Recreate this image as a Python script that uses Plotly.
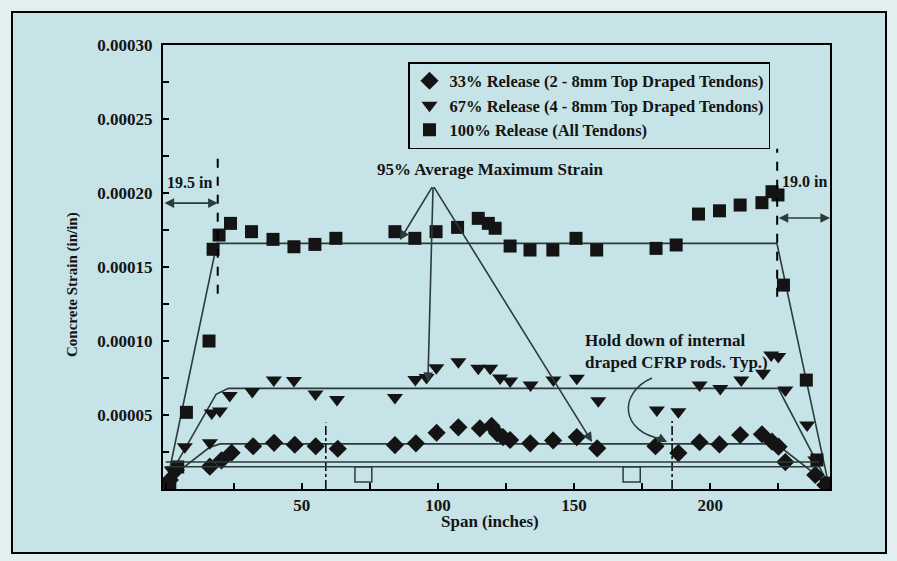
import plotly.graph_objects as go

# ---------------- data ----------------
sq_x = [1.5, 4.4, 7.6, 15.9, 17.4, 19.6, 23.8, 31.5, 39.4, 47.1, 54.8, 62.5, 84.2, 91.5, 99.3,
        107.2, 114.8, 118.5, 121.0, 126.5, 133.8, 142.2, 150.7, 158.3, 180.1, 187.5, 195.7,
        203.4, 211.0, 219.0, 222.7, 224.9, 226.9, 235.3, 239.2, 243.5]
sq_y = [0.05e-5, 1.49e-5, 5.18e-5, 10.0e-5, 16.2e-5, 17.16e-5, 17.95e-5, 17.39e-5, 16.87e-5,
        16.37e-5, 16.53e-5, 16.94e-5, 17.39e-5, 16.94e-5, 17.39e-5, 17.68e-5, 18.29e-5,
        17.95e-5, 17.62e-5, 16.42e-5, 16.15e-5, 16.15e-5, 16.94e-5, 16.15e-5, 16.26e-5,
        16.49e-5, 18.58e-5, 18.8e-5, 19.19e-5, 19.35e-5, 20.09e-5, 19.87e-5, 13.78e-5,
        7.36e-5, 1.96e-5, 0.39e-5]

tri_x = [0.7, 2.2, 7.0, 16.2, 16.9, 19.9, 23.5, 31.8, 39.7, 47.1, 55.0, 62.9, 84.2, 91.7, 95.8,
         99.4, 107.5, 114.8, 119.2, 122.8, 126.5, 134.0, 142.4, 151.0, 158.9, 180.4, 188.3,
         196.1, 203.7, 211.4, 219.4, 222.4, 225.0, 227.6, 235.6, 238.6, 242.6]
tri_y = [0.14e-5, 1.28e-5, 2.86e-5, 3.13e-5, 5.14e-5, 5.27e-5, 6.32e-5, 6.59e-5, 7.37e-5,
         7.33e-5, 6.42e-5, 6.05e-5, 6.18e-5, 7.40e-5, 7.53e-5, 8.19e-5, 8.60e-5, 8.16e-5,
         8.16e-5, 7.50e-5, 7.30e-5, 7.03e-5, 7.37e-5, 7.48e-5, 5.97e-5, 5.34e-5, 5.22e-5,
         7.03e-5, 6.80e-5, 7.37e-5, 7.82e-5, 9.05e-5, 8.95e-5, 6.69e-5, 4.32e-5, 1.96e-5,
         0.47e-5]

dia_x = [1.5, 3.7, 16.2, 20.5, 24.2, 32.1, 39.8, 47.4, 55.1, 63.2, 84.2, 91.9, 99.5, 107.5,
         115.4, 119.7, 121.7, 123.9, 126.5, 133.9, 142.3, 151.0, 158.5, 179.9, 188.3, 196.1,
         203.4, 211.0, 219.0, 222.7, 225.1, 227.6, 238.6, 242.3]
dia_y = [0.61e-5, 1.28e-5, 1.51e-5, 1.94e-5, 2.45e-5, 2.89e-5, 3.12e-5, 2.99e-5, 2.89e-5,
         2.72e-5, 2.97e-5, 3.09e-5, 3.80e-5, 4.17e-5, 4.10e-5, 4.26e-5, 3.78e-5, 3.51e-5,
         3.31e-5, 3.09e-5, 3.28e-5, 3.51e-5, 2.75e-5, 2.89e-5, 2.43e-5, 3.16e-5, 3.01e-5,
         3.65e-5, 3.70e-5, 3.20e-5, 2.86e-5, 1.82e-5, 0.95e-5, 0.27e-5]

# 95% average maximum strain envelopes
sq_fit_x = [0.0, 18.8, 224.5, 243.5]
sq_fit_y = [0.05e-5, 16.6e-5, 16.6e-5, 0.3e-5]
tri_fit_x = [0.5, 18.5, 23.0, 225.0, 243.5]
tri_fit_y = [0.6e-5, 6.4e-5, 6.8e-5, 6.8e-5, 0.3e-5]
dia_fit_x = [0.5, 16.0, 20.0, 222.0, 226.0, 243.5]
dia_fit_y = [0.6e-5, 2.8e-5, 3.05e-5, 3.05e-5, 2.8e-5, 0.3e-5]

series_names = ["33% Release (2 - 8mm Top Draped Tendons)",
                "67% Release (4 - 8mm Top Draped Tendons)",
                "100% Release (All Tendons)"]

x_tick_vals = [50, 100, 150, 200]
x_tick_text = ["50", "100", "150", "200"]
y_tick_vals = [0.00005, 0.00010, 0.00015, 0.00020, 0.00025, 0.00030]
y_tick_text = ["0.00005", "0.00010", "0.00015", "0.00020", "0.00025", "0.00030"]

# ---------------- style ----------------
FONT = "Liberation Serif, 'Times New Roman', serif"
INK = "#141414"
LINE = "#2b3b3b"
BG = "#c6e3e8"
PAPER = "#e2eff1"

fig = go.Figure()

for fx, fy in [(sq_fit_x, sq_fit_y), (tri_fit_x, tri_fit_y), (dia_fit_x, dia_fit_y)]:
    fig.add_trace(go.Scatter(x=fx, y=fy, mode="lines", showlegend=False,
                             line=dict(color=LINE, width=1.6), hoverinfo="skip"))

fig.add_trace(go.Scatter(x=dia_x, y=dia_y, mode="markers", name=series_names[0],
                         marker=dict(symbol="diamond", size=14, color=INK)))
fig.add_trace(go.Scatter(x=tri_x, y=tri_y, mode="markers", name=series_names[1],
                         marker=dict(symbol="triangle-down", size=14, color=INK)))
fig.add_trace(go.Scatter(x=sq_x, y=sq_y, mode="markers", name=series_names[2],
                         marker=dict(symbol="square", size=13, color=INK)))

# plot-area geometry helpers (pixels -> paper)
L, R, T, B = 163, 830, 45, 489
def px(xp):
    return (xp - L) / (R - L)
def py(yp):
    return (B - yp) / (B - T)

shapes = []
# outer frame of the scanned figure
shapes.append(dict(type="rect", xref="paper", yref="paper", x0=px(12), x1=px(886),
                   y0=py(553), y1=py(12), fillcolor=BG, line=dict(color="black", width=2),
                   layer="below"))
# dashed end-zone markers
shapes.append(dict(type="line", xref="x", yref="y", x0=19.1, x1=19.1, y0=13.2e-5, y1=22.9e-5,
                   line=dict(color="black", width=2, dash="dash")))
shapes.append(dict(type="line", xref="x", yref="y", x0=224.6, x1=224.6, y0=13.0e-5, y1=23.0e-5,
                   line=dict(color="black", width=2, dash="dash")))
# hold-down dash-dot markers
shapes.append(dict(type="line", xref="x", yref="y", x0=58.8, x1=58.8, y0=0, y1=4.5e-5,
                   line=dict(color="black", width=1.5, dash="dashdot")))
shapes.append(dict(type="line", xref="x", yref="y", x0=186.0, x1=186.0, y0=0, y1=4.6e-5,
                   line=dict(color="black", width=1.5, dash="dashdot")))
# rod schematic (double line with hold-down notches)
shapes.append(dict(type="line", xref="x", yref="y", x0=0, x1=240, y0=1.82e-5, y1=1.82e-5,
                   line=dict(color=LINE, width=1.5)))
shapes.append(dict(type="line", xref="x", yref="y", x0=0, x1=240, y0=1.50e-5, y1=1.50e-5,
                   line=dict(color=LINE, width=1.5)))
for nx0, nx1 in [(69.5, 75.7), (168.0, 174.3)]:
    shapes.append(dict(type="rect", xref="x", yref="y", x0=nx0, x1=nx1, y0=0.47e-5, y1=1.50e-5,
                       line=dict(color=LINE, width=1.5), fillcolor="rgba(0,0,0,0)"))
# curved hold-down arrow
shapes.append(dict(type="path", xref="paper", yref="paper",
                   path=f"M {px(652):.4f},{py(378):.4f} C {px(618):.4f},{py(393):.4f} "
                        f"{px(620):.4f},{py(432):.4f} {px(662):.4f},{py(439):.4f}",
                   line=dict(color=LINE, width=1.5)))

ann = []
tfont = dict(family=FONT, size=17, color=INK, weight="bold")
ann.append(dict(text="95% Average Maximum Strain", x=119.1, y=21.56e-5, xref="x", yref="y",
                showarrow=False, font=tfont))
apex = (98.2, 20.5e-5)
for tx, ty in [(86.0, 16.82e-5), (96.3, 7.23e-5), (156.6, 3.18e-5)]:
    ann.append(dict(text="", x=tx, y=ty, ax=apex[0], ay=apex[1], xref="x", yref="y",
                    axref="x", ayref="y", showarrow=True, arrowhead=2, arrowsize=1.2,
                    arrowwidth=1.6, arrowcolor=LINE, standoff=0))
ann.append(dict(text="19.5 in", x=8.8, y=20.68e-5, xref="x", yref="y", showarrow=False,
                font=dict(family=FONT, size=16, color=INK, weight="bold")))
ann.append(dict(text="", x=19.1, y=19.32e-5, ax=-1, ay=19.32e-5, xref="x", yref="y",
                axref="x", ayref="y", showarrow=True, arrowhead=2, startarrowhead=2,
                arrowside="end+start", arrowsize=1.2, arrowwidth=1.6, arrowcolor=LINE,
                standoff=0, startstandoff=0))
ann.append(dict(text="19.0 in", x=234.6, y=20.81e-5, xref="x", yref="y", showarrow=False,
                font=dict(family=FONT, size=16, color=INK, weight="bold")))
ann.append(dict(text="", x=244, y=18.31e-5, ax=224.6, ay=18.31e-5, xref="x", yref="y",
                axref="x", ayref="y", showarrow=True, arrowhead=2, startarrowhead=2,
                arrowside="end+start", arrowsize=1.2, arrowwidth=1.6, arrowcolor=LINE,
                standoff=0, startstandoff=0))
ann.append(dict(text="Hold down of internal<br>draped CFRP rods. Typ.)", x=153.3, y=9.3e-5,
                xref="x", yref="y", xanchor="left", yanchor="middle", align="left",
                showarrow=False, font=dict(family=FONT, size=17, color=INK, weight="bold")))
ann.append(dict(text="", x=184.2, y=3.18e-5, ax=180.0, ay=3.55e-5, xref="x", yref="y",
                axref="x", ayref="y", showarrow=True, arrowhead=2, arrowsize=1.2,
                arrowwidth=1.6, arrowcolor=LINE, standoff=0))
# axis titles
ann.append(dict(text="Concrete Strain (in/in)", x=px(72), y=py(285), xref="paper",
                yref="paper", xanchor="center", yanchor="middle", textangle=-90,
                showarrow=False, font=dict(family=FONT, size=15, color=INK, weight="bold")))
ann.append(dict(text="Span (inches)", x=px(490), y=py(521), xref="paper", yref="paper",
                xanchor="center", yanchor="middle", showarrow=False,
                font=dict(family=FONT, size=17, color=INK, weight="bold")))

axis_common = dict(showline=True, linecolor="black", linewidth=2, mirror=True,
                   ticks="inside", ticklen=6, tickwidth=2, tickcolor="black",
                   showgrid=False, zeroline=False,
                   tickfont=dict(family=FONT, size=17, color=INK, weight="bold"))

fig.update_layout(
    width=897, height=561,
    margin=dict(l=L, r=897 - R, t=T, b=561 - B),
    paper_bgcolor=PAPER, plot_bgcolor="rgba(0,0,0,0)",
    shapes=shapes, annotations=ann,
    xaxis=dict(range=[-1, 244], tickvals=x_tick_vals, ticktext=x_tick_text,
               minor=dict(dtick=25, tick0=0, ticks="inside", ticklen=6, tickwidth=2,
                          tickcolor="black", showgrid=False),
               ticklabelstandoff=0, **axis_common),
    yaxis=dict(range=[0, 0.00030005], tickvals=y_tick_vals, ticktext=y_tick_text,
               minor=dict(dtick=0.000025, tick0=0, ticks="inside", ticklen=6, tickwidth=2,
                          tickcolor="black", showgrid=False),
               ticklabelstandoff=5, **axis_common),
    legend=dict(x=px(408), y=py(62), xanchor="left", yanchor="top",
                bgcolor="rgba(0,0,0,0)", bordercolor="black", borderwidth=1.5,
                font=dict(family=FONT, size=16.5, color=INK, weight="bold"),
                tracegroupgap=0, itemwidth=30),
    showlegend=True,
)

fig.write_html("out.html")
